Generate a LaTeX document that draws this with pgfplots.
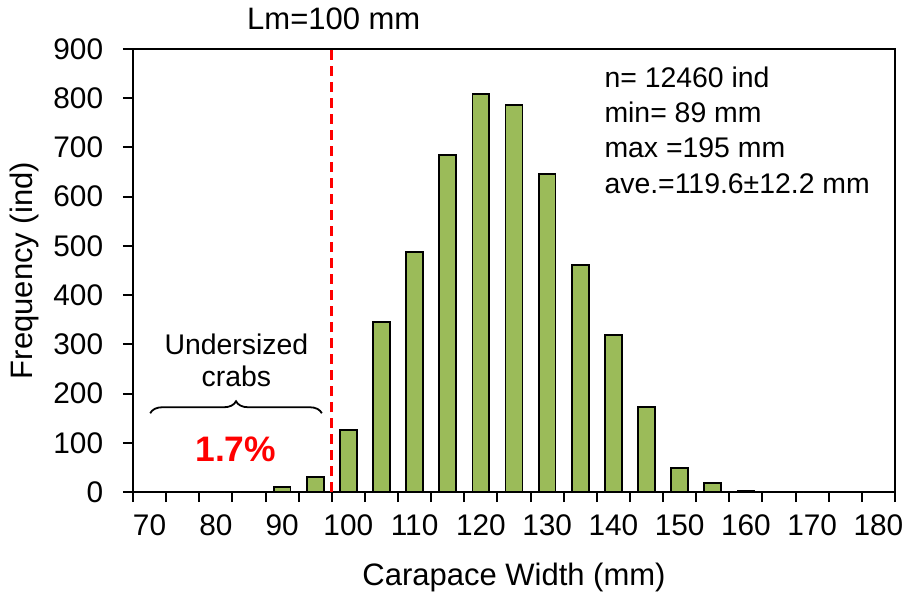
\documentclass[border=0pt]{standalone}
\usepackage{pgfplots}
\pgfplotsset{compat=1.18}
\usepackage{fontspec}
\setmainfont{Liberation Sans}
\usetikzlibrary{decorations.pathreplacing}
\definecolor{bargreen}{HTML}{9BBB59}
\begin{document}
\fontsize{14.2bp}{17bp}\selectfont
\begin{tikzpicture}
\begin{axis}[
  scale only axis,
  width=381bp, height=221.5bp,
  at={(0,0)}, anchor=south west,
  xmin=67.5, xmax=182.5,
  ymin=0, ymax=900,
  clip=false,
  axis line style={line width=1.4bp},
  xtick={67.5,72.5,...,182.5},
  xticklabels={},
  extra x ticks={70,80,...,180},
  extra x tick style={major tick length=0pt},
  ytick={0,100,...,900},
  xtick pos=bottom, ytick pos=left,
  tick align=outside,
  major tick length=5bp,
  every tick/.style={black, line width=1bp},
  /pgf/number format/assume math mode=true,
  tick label style={font=\fontsize{14.9bp}{17bp}\selectfont},
  label style={font=\fontsize{15.5bp}{18bp}\selectfont},
  xticklabel style={yshift=-6.5bp},
  yticklabel style={xshift=-5bp},
  xlabel={Carapace Width (mm)},
  ylabel={Frequency (ind)},
  xlabel style={at={(axis description cs:0.5,-0.194)}, anchor=center},
  ylabel style={at={(axis description cs:-0.142,0.5)}, anchor=center},
  ybar, bar width=2.55,
]
\addplot[fill=bargreen, draw=black, line width=0.9bp] table {
x y
70 0
75 0
80 0
85 0
90 10
95 31
100 126
105 346
110 488
115 685
120 808
125 787
130 646
135 461
140 319
145 173
150 49
155 18
160 3
165 1
170 0
175 0
180 0
};
\draw[red, line width=1.6bp, dash pattern=on 5bp off 3bp] (axis cs:97.5,0) -- (axis cs:97.5,900);
\node[anchor=base, font=\fontsize{15.5bp}{18bp}\selectfont] at (axis cs:97.8,939) {Lm=100 mm};
\node[anchor=base west, inner sep=0pt] at (axis cs:138.6,821) {n= 12460 ind};
\node[anchor=base west, inner sep=0pt] at (axis cs:138.6,750) {min= 89 mm};
\node[anchor=base west, inner sep=0pt] at (axis cs:138.6,679) {max =195 mm};
\node[anchor=base west, inner sep=0pt] at (axis cs:138.6,607) {ave.=119.6\textpm12.2 mm};
\node[anchor=base] at (axis cs:83.1,280) {Undersized};
\node[anchor=base] at (axis cs:83.1,215) {crabs};
\draw[decorate, decoration={brace, amplitude=6bp}, line width=0.9bp] (axis cs:70.1,160) -- (axis cs:96.0,160);
\node[anchor=base, red, font=\fontsize{17.7bp}{20bp}\selectfont\bfseries] at (axis cs:83.0,61) {1.7\%};
\end{axis}
\pgfresetboundingbox
\path (-66.5bp,-52bp) rectangle (387bp,246bp);
\end{tikzpicture}
\end{document}
